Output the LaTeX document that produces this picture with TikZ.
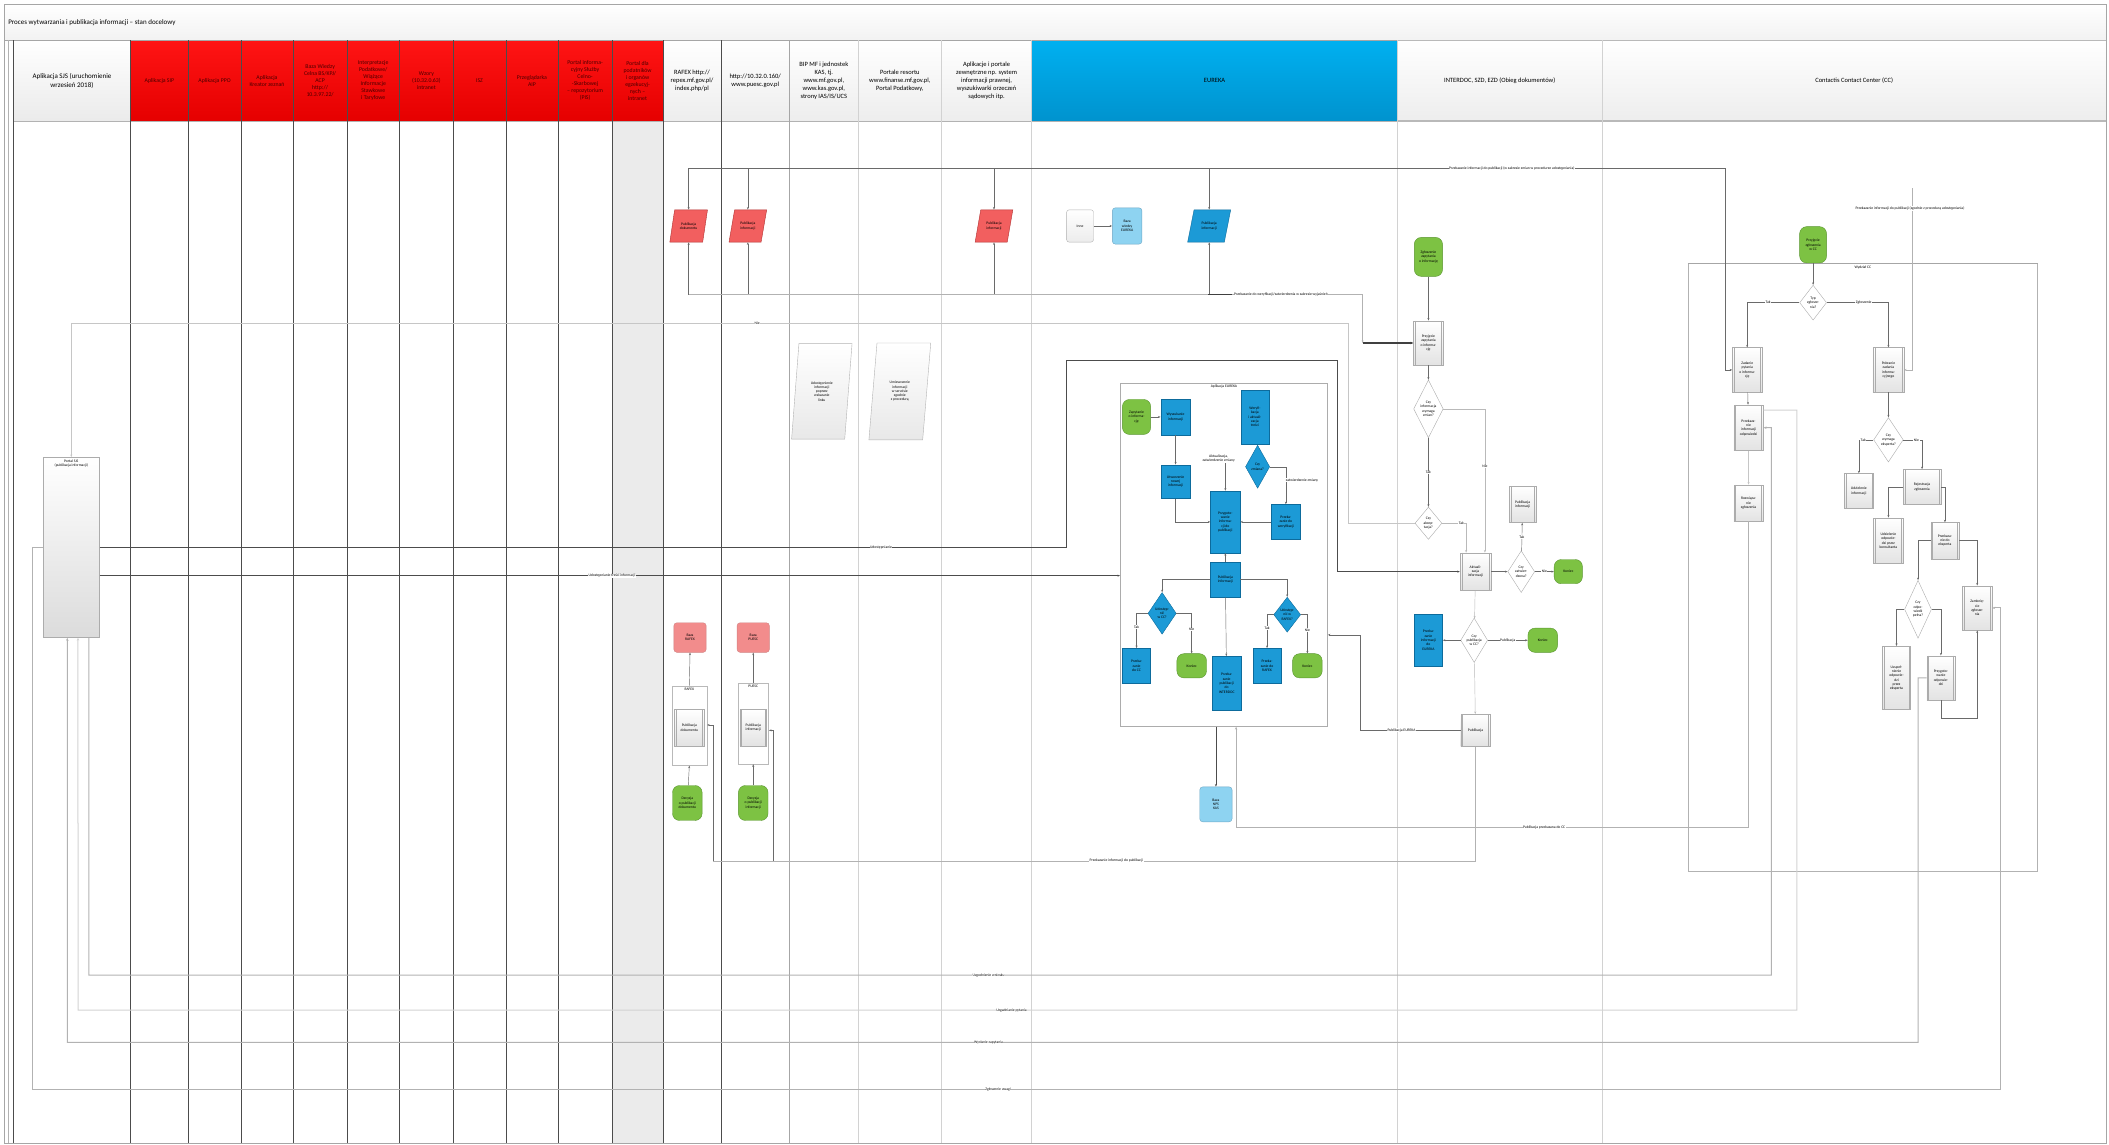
\documentclass[tikz,border=0pt]{standalone}
\usepackage{fontspec}
\setmainfont{Carlito}
\usetikzlibrary{shapes.geometric,arrows.meta}

\definecolor{hdrred}{HTML}{FF1414}
\definecolor{hdrredd}{HTML}{E50000}
\definecolor{hdrtext}{HTML}{4A0000}
\definecolor{redfill}{HTML}{F25F5F}
\definecolor{rededge}{HTML}{B03030}
\definecolor{redstorecol}{HTML}{F28C8C}
\definecolor{bluefill}{HTML}{1C9AD6}
\definecolor{blueedge}{HTML}{0D6B9C}
\definecolor{bluelight}{HTML}{8ED3F1}
\definecolor{greenfill}{HTML}{7DC243}
\definecolor{greenedge}{HTML}{5A9530}
\definecolor{eurekatop}{HTML}{00B0F0}
\definecolor{eurekabot}{HTML}{0093CE}
\definecolor{lanegray}{HTML}{EBEBEB}
\definecolor{wirecol}{HTML}{6A6A6A}

\def\pu{1.345pt}

\tikzset{
  txt/.style={font=\fontsize{3.7}{4.3}\selectfont, align=center, inner sep=0.4pt, text=black},
  sz/.style 2 args={minimum width=#1*\pu, minimum height=#2*\pu},
  bluebox/.style={txt, rectangle, draw=blueedge, fill=bluefill, line width=0.4pt},
  bluedia/.style={txt, diamond, aspect=0.7, draw=blueedge, fill=bluefill, line width=0.4pt, inner sep=0pt},
  greenterm/.style={txt, rectangle, rounded corners=7pt, draw=greenedge, fill=greenfill, line width=0.4pt},
  graybox/.style={txt, rectangle, draw=gray!65, top color=white, bottom color=gray!22, line width=0.4pt},
  grayproc/.style={graybox, path picture={
      \draw[gray!65, line width=0.4pt] ([xshift=1.8pt]path picture bounding box.north west) -- ([xshift=1.8pt]path picture bounding box.south west);
      \draw[gray!65, line width=0.4pt] ([xshift=-1.8pt]path picture bounding box.north east) -- ([xshift=-1.8pt]path picture bounding box.south east);}},
  graydia/.style={txt, diamond, aspect=0.7, draw=gray!65, fill=white, line width=0.4pt, inner sep=0pt},
  para/.style={txt, trapezium, trapezium stretches=true, line width=0.4pt},
  redpar/.style={para, trapezium left angle=68, trapezium right angle=112, draw=rededge, fill=redfill},
  bluepar/.style={para, trapezium left angle=68, trapezium right angle=112, draw=blueedge, fill=bluefill},
  graypar/.style={para, trapezium left angle=80, trapezium right angle=100, draw=gray!60, top color=white, bottom color=gray!18},
  redstore/.style={txt, rectangle, rounded corners=3pt, draw=rededge!60, fill=redstorecol, line width=0.4pt},
  bluestore/.style={txt, rectangle, rounded corners=3pt, draw=blueedge!60, fill=bluelight, line width=0.4pt},
  docshape/.style={txt, rectangle, rounded corners=2.5pt, draw=gray!60, top color=white, bottom color=gray!15, line width=0.4pt},
  container/.style={rectangle, draw=gray!55, fill=white, line width=0.5pt},
  wire/.style={draw=wirecol, line width=0.45pt},
  arr/.style={wire, -{Stealth[length=2.6pt,width=2pt]}},
  longarr/.style={draw=gray!60, line width=1pt, -{Stealth[length=3pt,width=2.4pt]}},
  lbl/.style={font=\fontsize{3.7}{4.3}\selectfont, fill=white, inner sep=0.5pt, align=center},
  hdr/.style={font=\fontsize{6.5}{7.8}\selectfont, align=center, inner sep=0pt},
  redhdr/.style={font=\fontsize{5.8}{7}\selectfont, align=center, inner sep=0pt, text=hdrtext},
}

\begin{document}
\begin{tikzpicture}[x=1.345pt,y=-1.345pt]
\useasboundingbox (0,0) rectangle (1568,851);

% ---------- title strip, lane headers and lane lines ----------
\shade[top color=white, bottom color=gray!10] (3,3) rectangle (1566,30);
\node[anchor=west, font=\fontsize{7}{8}\selectfont, inner sep=0pt] (title) at (6,17) {Proces wytwarzania i publikacja informacji – stan docelowy};
\fill[lanegray] (455,90) rectangle (493,850);
\shade[top color=white, bottom color=gray!16] (10,30) rectangle (97,90);
\shade[top color=hdrred, bottom color=hdrredd] (97,30) rectangle (493,90);
\shade[top color=white, bottom color=gray!14] (493,30) rectangle (767,90);
\shade[top color=eurekatop, bottom color=eurekabot] (767,30) rectangle (1039,90);
\shade[top color=white, bottom color=gray!14] (1039,30) rectangle (1566,90);
\draw[gray!70, line width=0.6pt] (3,3) rectangle (1566,850);
\draw[gray!70, line width=0.6pt] (3,30) -- (1566,30);
\draw[gray!60, line width=0.8pt] (10,90) -- (1566,90);
\draw[gray!55, line width=1.2pt] (1039,30) -- (1566,30) (1039,90) -- (1566,90);
\draw[gray!60, line width=0.35pt] (6,30) -- (6,850);
\foreach \x in {10,97,140,179,218,258,297,337,376,415,455,493,536}
  \draw[black!70, line width=0.35pt] (\x,30) -- (\x,850);
\draw[gray!70, line width=0.35pt] (587,30) -- (587,850);
\foreach \x in {638,700,767,1039,1191}
  \draw[gray!35, line width=0.4pt] (\x,30) -- (\x,850);

\node[hdr, font=\fontsize{7}{9}\selectfont] (h1) at (53.5,60) {Aplikacja SJS (uruchomienie\\wrzesień 2018)};
\node[redhdr] (h2) at (118.5,60) {Aplikacja SIP};
\node[redhdr] (h3) at (159.5,60) {Aplikacja PPO};
\node[redhdr] (h4) at (198.5,60) {Aplikacja\\Kreator zeznań};
\node[redhdr] (h5) at (238,60) {Baza Wiedzy\\Celna BS/KPJ/\\ACP\\http://\\10.3.97.22/};
\node[redhdr] (h6) at (277.5,60) {Interpretacje\\Podatkowe/\\Wiążące\\Informacje\\Stawkowe\\i Taryfowe};
\node[redhdr] (h7) at (317,60) {Wzory\\(10.32.0.63)\\intranet};
\node[redhdr] (h8) at (356.5,60) {ISZ};
\node[redhdr] (h9) at (395.5,60) {Przeglądarka\\AIP};
\node[redhdr] (h10) at (435,60) {Portal informa-\\cyjny Służby\\Celno-\\-Skarbowej\\– repozytorium\\(PIS)};
\node[redhdr] (h11) at (474,60) {Portal dla\\podatników\\i organów\\egzekucyj-\\nych –\\intranet};
\node[hdr] (h12) at (514.5,60) {RAFEX http://\\repex.mf.gov.pl/\\index.php/pl};
\node[hdr] (h13) at (561.5,60) {http://10.32.0.160/\\www.puesc.gov.pl};
\node[hdr] (h14) at (612.5,60) {BIP MF i jednostek\\KAS, tj.\\www.mf.gov.pl,\\www.kas.gov.pl,\\strony IAS/IS/UCS};
\node[hdr] (h15) at (669,60) {Portale resortu\\www.finanse.mf.gov.pl,\\Portal Podatkowy,};
\node[hdr] (h16) at (733.5,60) {Aplikacje i portale\\zewnętrzne np. system\\informacji prawnej,\\wyszukiwarki orzeczeń\\sądowych itp.};
\node[hdr] (h17) at (903,60) {EUREKA};
\node[hdr] (h18) at (1115,60) {INTERDOC, SZD, EZD (Obieg dokumentów)};
\node[hdr] (h19) at (1378.5,60) {Contactis Contact Center (CC)};

% ---------- frames ----------
\node[rectangle, draw=gray!65, line width=0.7pt, sz={154}{255}] (efr) at (910,412.5) {};
\node[txt, anchor=north] (eft) at ([yshift=-1pt]efr.north) {Aplikacja EUREKA};
\node[rectangle, draw=gray!60, line width=0.5pt, sz={260}{452}] (ccf) at (1385,422) {};
\draw[gray!70, line width=1.4pt] (ccf.north west) -- (ccf.north east);
\node[txt, anchor=north] (cct) at ([yshift=-2pt]ccf.north) {Wydział CC};

% ---------- SJS ----------
\node[graybox, sz={42}{134}, bottom color=gray!28] (sjs) at (53,407) {};
\node[txt, anchor=north] (sjst) at ([yshift=-2pt]sjs.north) {Portal SJS\\(publikacja informacji)};

% ---------- publication band ----------
\node[redpar, sz={28}{24}] (p1) at (512,168) {Publikacja\\dokumentu};
\node[redpar, sz={28}{24}] (p2) at (556,168) {Publikacja\\informacji};
\node[redpar, sz={28}{24}] (p3) at (739,168) {Publikacja\\informacji};
\node[docshape, sz={20}{24}] (inne) at (803,168) {Inne};
\node[bluestore, sz={22}{27}] (baza) at (838,168) {Baza\\wiedzy\\EUREKA};
\node[bluepar, sz={32}{24}] (p4) at (899,168) {Publikacja\\informacji};

\node[graypar, sz={45}{71}] (g1) at (611,291) {Udostępnienie\\informacji\\poprzez\\wskazanie\\linku};
\node[graypar, sz={46}{72}] (g2) at (669,291) {Umieszczenie\\informacji\\w serwisie\\zgodnie\\z procedurą};

% ---------- RAFEX / PUESC ----------
\node[redstore, sz={24}{22}] (rbaza) at (513,474) {Baza\\RAFEX};
\node[container, sz={26}{59}] (rcont) at (512.5,539.5) {};
\node[txt, anchor=north] (rct) at ([yshift=-1.5pt]rcont.north) {RAFEX};
\node[grayproc, sz={22}{27}] (rpub) at (512.5,541) {Publikacja\\dokumentu};
\node[greenterm, sz={22}{26}] (rgreen) at (511,597) {Decyzja\\o publikacji\\dokumentu};

\node[redstore, sz={24}{22}] (pbaza) at (560,474) {Baza\\PUESC};
\node[container, sz={23}{60}] (pcont) at (560,538) {};
\node[txt, anchor=north] (pct) at ([yshift=-1.5pt]pcont.north) {PUESC};
\node[grayproc, sz={20}{27}] (ppub) at (560,541) {Publikacja\\informacji};
\node[greenterm, sz={22}{26}] (pgreen) at (560,597) {Decyzja\\o publikacji\\informacji};

% ---------- EUREKA subprocess ----------
\node[greenterm, sz={21}{26}] (e1) at (845,310) {Zapytanie\\o informa-\\cję};
\node[bluebox, sz={22}{27}] (e2) at (874,310) {Wyszukanie\\informacji};
\node[bluebox, sz={22}{25}] (e3) at (874,358) {Utworzenie\\nowej\\informacji};
\node[bluebox, sz={21}{40}] (e4) at (933,310) {Weryfi-\\kacja\\i aktuali-\\zacja\\treści};
\node[bluedia, sz={18}{32}] (e5) at (935,347) {Czy\\zmiana?};
\node[bluebox, sz={22}{46}] (e6) at (911,388) {Przygoto-\\wanie\\informa-\\cji do\\publikacji};
\node[bluebox, sz={22}{26}] (e7) at (956,388) {Przeka-\\zanie do\\weryfikacji};
\node[bluebox, sz={22}{26}] (e8) at (911,431) {Publikacja\\informacji};
\node[bluedia, sz={21}{31}] (e9) at (864,456) {Udostęp-\\nić\\w CC?};
\node[bluedia, sz={20}{26}] (e10) at (957,457) {Udostęp-\\nić w\\RAFEX?};
\node[bluebox, sz={21}{26}] (e11) at (845,495) {Przeka-\\zanie\\do CC};
\node[greenterm, sz={22}{18}] (e12) at (886,495) {Koniec};
\node[bluebox, sz={22}{40}] (e13) at (912,508) {Przeka-\\zanie\\publikacji\\do\\INTERDOC};
\node[bluebox, sz={21}{26}] (e14) at (942,495) {Przeka-\\zanie do\\RAFEX};
\node[greenterm, sz={22}{18}] (e15) at (972,495) {Koniec};
\node[lbl, fill=none] (el1) at (906,341) {Aktualizacja,\\zatwierdzenie zmiany};
\node[bluestore, sz={24}{26}] (nps) at (904,598) {Baza\\NPS\\KAS};

% ---------- INTERDOC ----------
\node[greenterm, sz={21}{29}] (i1) at (1062,191) {Zgłoszenie\\zapytania\\o informację};
\node[grayproc, sz={22}{33}] (i2) at (1062,255) {Przyjęcie\\zapytania\\o informa-\\cję};
\node[graydia, sz={22}{43}] (i3) at (1062,304) {Czy\\informacja\\wymaga\\zmian?};
\node[graydia, sz={20}{24}] (i4) at (1062,389) {Czy\\akcep-\\tacja?};
\node[grayproc, sz={23}{28}] (i5) at (1097,425) {Aktuali-\\zacja\\informacji};
\node[graydia, sz={20}{31}] (i6) at (1131,425) {Czy\\zatwier-\\dzona?};
\node[grayproc, sz={20}{27}] (i7) at (1132,375) {Publikacja\\informacji};
\node[greenterm, sz={21}{18}] (i8) at (1166,425) {Koniec};
\node[graydia, sz={20}{33}] (i9) at (1096,476) {Czy\\publikacja\\w CC?};
\node[bluebox, sz={21}{39}] (i10) at (1062,476) {Przeka-\\zanie\\informacji\\do\\EUREKA};
\node[greenterm, sz={22}{18}] (i11) at (1147,476) {Koniec};
\node[grayproc, sz={22}{24}] (i12) at (1097,543) {Publikacja};

% ---------- Contact Center ----------
\node[greenterm, sz={20}{27}] (c0) at (1348,182) {Przyjęcie\\zgłoszenia\\w CC};
\node[graydia, sz={20}{26}] (cd1) at (1348,225) {Typ\\zgłosze-\\nia?};
\node[grayproc, sz={22}{33}] (c1) at (1299,275) {Zadanie\\pytania\\o informa-\\cję};
\node[grayproc, sz={22}{34}] (c2) at (1300,318) {Przekaza-\\nie\\informacji\\odpowiedzi};
\node[grayproc, sz={22}{27}] (c3) at (1300,374) {Rozwiąza-\\nie\\zgłoszenia};
\node[grayproc, sz={23}{33}] (c4) at (1404,275) {Pobranie\\zadania\\informa-\\cyjnego};
\node[graydia, sz={22}{33}] (cd2) at (1404,327) {Czy\\wymaga\\eksperta?};
\node[grayproc, sz={22}{26}] (c5) at (1382,365) {Udzielenie\\informacji};
\node[grayproc, sz={28}{26}] (c6) at (1429,362) {Rejestracja\\zgłoszenia};
\node[grayproc, sz={22}{34}] (c7) at (1404,402) {Udzielenie\\odpowie-\\dzi przez\\konsultanta};
\node[grayproc, sz={21}{27}] (c8) at (1446,402) {Przekaza-\\nie do\\eksperta};
\node[graydia, sz={20}{43}] (cd3) at (1426,453) {Czy\\odpo-\\wiedź\\pełna?};
\node[grayproc, sz={21}{47}] (c9) at (1410,504) {Uzupeł-\\nienie\\odpowie-\\dzi\\przez\\eksperta};
\node[grayproc, sz={21}{33}] (c10) at (1443,504) {Przygoto-\\wanie\\odpowie-\\dzi};
\node[grayproc, sz={22}{33}] (c11) at (1470,452) {Zamknię-\\cie\\zgłosze-\\nia};

% ---------- waypoints ----------
\coordinate (t1) at (512,125);
\coordinate (t2) at (1283,125);
\coordinate (t3) at (512,219);
\coordinate (t4) at (1013,219);
\coordinate (t5) at (1422,140);
\coordinate (u1) at (793,407);
\coordinate (u2) at (833,428);
\coordinate (w472) at (1011,472);
\coordinate (w615) at (919,615);
\coordinate (w640) at (1097,640);
\coordinate (w534) at (1470,534);

% ---------- connectors: publication band ----------
\draw[wire] (t1) -- (t2);
\draw[arr] (t2) |- (c1.west);
\foreach \p in {p1,p2,p3,p4} {
  \draw[arr] (\p.north |- t1) -- (\p.north);
  \draw[arr] (\p.south |- t3) -- (\p.south);
}
\draw[wire, draw=gray!60] (t3) -- (t4);
\draw[black!75, line width=1.1pt] (898,219) -- (916,219);
\draw[arr, draw=gray!60] (t4) -- (t4 |- i2.west);
\draw[black!75, line width=1.1pt, -{Stealth[length=3pt,width=2.4pt]}] (t4 |- i2.west) -- (i2.west);
\draw[arr] (inne) -- (baza);
\draw[arr, draw=gray!60] (t5) |- (c4.east);

% ---------- connectors: SJS ----------
\draw[arr, draw=black!70] (u1 -| sjs.east) -- (u1) -- (793,268) -- (994,268) -- (994,425) -- (i5.west);
\draw[arr, draw=black!70] (u2 -| sjs.east) -- (u2 -| efr.west);
\draw[arr, draw=gray!45] (i4.west) -- (1002,389) -- (1002,240) -- (53,240) -- (sjs.north);
\draw[longarr] (u1 -| sjs.west) -- (24,407) -- (24,810) -- (1487,810) -- (1487,452) -- (c11.east);
\draw[longarr] (c10.west) -- (1426,504) -- (1426,775) -- (50,775) -- ([xshift=-4pt]sjs.south);
\draw[longarr, draw=gray!35] ([yshift=17.5pt]c2.east) -- (1336,305) -- (1336,751) -- (58,751) -- ([xshift=6.7pt]sjs.south);
\draw[longarr] ([xshift=17.5pt]sjs.south) -- (66,725) -- (1317,725) -- (1317,318) -- (c2.east);

% ---------- connectors: RAFEX / PUESC ----------
\draw[arr] (rgreen) -- (rcont.south);
\draw[arr] (rcont.north) -- (rbaza.south);
\draw[arr] (pgreen) -- (pcont.south);
\draw[arr] (pcont.north) -- (pbaza.south);
\draw[wire, draw=gray!60] (i12.south) -- (w640) -- (530,640);
\draw[arr] (530,640) -- (530,539) -- (rcont.east |- 0,539);
\draw[arr] (575,640) -- (575,543) -- (pcont.east |- 0,543);

% ---------- connectors: EUREKA ----------
\draw[arr] (e1) -- (e2);
\draw[arr] (e2) -- (e3);
\draw[arr] (e3.south) |- (e6.west);
\draw[arr] (e7) -- (e6);
\draw[arr] (e5.east) -| (e7.north);
\draw[arr] (el1.south -| e6.north) -- (e6.north);
\draw[arr] (e8) -- (e6);
\draw[arr] (e8.west) -| (e9.north);
\draw[arr] (e8.east) -| (e10.north);
\draw[arr] (e8) -- (e13);
\draw[arr] (e9.west) -| node[lbl, pos=0.7] (el3) {Tak} (e11.north);
\draw[arr] (e9.east) -| node[lbl, pos=0.7] (el4) {Nie} (e12.north);
\draw[arr] (e10.west) -| node[lbl, pos=0.7] (el5) {Tak} (e14.north);
\draw[arr] (e10.east) -| node[lbl, pos=0.7] (el6) {Nie} (e15.north);
\draw[arr, draw=black!70] (efr.south -| nps.north) -- (nps.north);
\draw[longarr] (c3.south) |- (w615) -- (w615 |- efr.south);
\draw[arr] (i12.west) -- (1011,543) -- (w472) -- (w472 -| efr.east);

% ---------- connectors: INTERDOC ----------
\draw[arr] (i1) -- (i2);
\draw[arr] (i2) -- (i3);
\draw[arr] (i3) -- node[lbl] (il1) {Tak} (i4);
\draw[arr, draw=gray!55] (i3.east) -| node[lbl, pos=0.7] (il2) {Nie} ([xshift=9.4pt]i5.north);
\draw[arr, draw=gray!55] (i4.east) -| node[lbl, pos=0.4] (il3) {Tak} ([xshift=-9.4pt]i5.north);
\draw[arr] (i5) -- (i6);
\draw[arr] (i6) -- node[lbl] (il4) {Tak} (i7);
\draw[arr] (i6) -- node[lbl] (il5) {Nie} (i8);
\draw[arr, draw=gray!55] (i5) -- (i9);
\draw[arr] (i9) -- (i10);
\draw[arr] (i9) -- node[lbl] (il6) {Publikacja} (i11);
\draw[arr, draw=gray!55] (i9) -- (i12);

% ---------- connectors: Contact Center ----------
\draw[arr] (c0) -- (cd1);
\draw[arr] (cd1.west) -| node[lbl, pos=0.3] (cl1) {Tak} (c1.north);
\draw[arr] (cd1.east) -| node[lbl, pos=0.3] (cl2) {Zgłoszenie} (c4.north);
\draw[arr] (c1) -- (c2);
\draw[arr, draw=gray!45] (c2) -- (c3);
\draw[arr] (c4) -- (cd2);
\draw[arr] (cd2.west) -| node[lbl, pos=0.35] (cl3) {Tak} (c5.north);
\draw[arr] (cd2.east) -| node[lbl, pos=0.35] (cl4) {Nie} (c6.north);
\draw[arr] (c6.west) -| (c7.north);
\draw[arr] (c6.east) -| (c8.north);
\draw[arr] (c8.west) -| (cd3.north);
\draw[arr] (c8.east) -| (c11.north);
\draw[arr] (cd3.west) -| (c9.north);
\draw[arr] (cd3.east) -| (c10.north);
\draw[arr] (c10.south) |- (w534) -- (c11.south);

% ---------- connector labels ----------
\node[lbl] (l1) at (1124,125) {Przekazanie informacji do publikacji (w zakresie zmian w procedurze udostępniania)};
\node[lbl] (l2) at (1420,155) {Przekazanie informacji do publikacji (zgodnie z procedurą udostępniania)};
\node[lbl, anchor=west] (l3) at (917,219) {Przekazanie do weryfikacji/zatwierdzenia w zakresie wyjaśnień};
\node[lbl] (l4) at (563,240) {Nie};
\node[lbl] (l5) at (655,407) {Udostępnianie};
\node[lbl] (l6) at (455,428) {Udostępnianie treści informacji};
\node[lbl] (l7) at (830,640) {Przekazanie informacji do publikacji};
\node[lbl] (l8) at (1148,615) {Publikacja przekazana do CC};
\node[lbl] (l9) at (1042,543) {Publikacja EUREKA};
\node[lbl] (l10) at (735,725) {Uzgodnienie wniosku};
\node[lbl] (l11) at (752,751) {Uzgadnianie pytania};
\node[lbl] (l12) at (735,775) {Wysłanie zapytania};
\node[lbl] (l13) at (742,810) {Zgłoszenie uwagi};
\node[lbl] (l14) at (968,357) {zatwierdzenie zmiany};
\end{tikzpicture}
\end{document}
